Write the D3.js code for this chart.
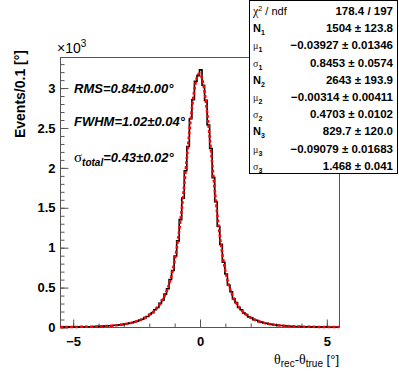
<!DOCTYPE html>
<html><head><meta charset="utf-8">
<script src="https://cdn.jsdelivr.net/npm/d3@7"></script>
<style>body{margin:0;background:#fff}svg{display:block}</style>
</head><body>
<script>
// ---- data ----
const binLow = -5.5, binWidth = 0.1;
const counts = [
  0,1,0,1,1,0,2,1,3,2,
  3,4,3,6,5,8,7,11,12,15,
  16,21,22,27,30,37,40,49,54,66,
  72,88,97,118,131,160,178,216,245,296,
  337,412,480,595,708,890,1079,1346,1615,1958,
  2262,2610,2848,3080,3150,3222,3030,2840,2532,2236,
  1872,1570,1262,1035,812,665,526,441,352,305,
  246,216,176,156,127,114,92,84,67,61,
  49,45,36,33,26,25,19,18,14,13,
  10,9,7,7,5,4,4,3,2,2,
  1,1,1,1,0,1,0,0,0,0
];
const fitN = [1504, 2643, 829.7];
const fitMu = [-0.03927, -0.00314, -0.09079];
const fitSigma = [0.8453, 0.4703, 1.468];
const xTicks = [-5, 0, 5];
const xMinorTicks = [-5,-4,-3,-2,-1,0,1,2,3,4,5];
const yTicks = [0, 500, 1000, 1500, 2000, 2500, 3000];
const yTickLabels = ["0", "0.5", "1", "1.5", "2", "2.5", "3"];
const yMinorTicks = d3.range(0, 3400, 100);
const statMain = ["N","μ","σ","N","μ","σ","N","μ","σ"];
const statSub  = ["1","1","1","2","2","2","3","3","3"];
const statValues = ["1504 ± 123.8","−0.03927 ± 0.01346","0.8453 ± 0.0574",
  "2643 ± 193.9","−0.00314 ± 0.00411","0.4703 ± 0.0102",
  "829.7 ± 120.0","−0.09079 ± 0.01683","1.468 ± 0.041"];
const chi2Text = "178.4 / 197";
const annotations = ["RMS=0.84±0.00°", "FWHM=1.02±0.04°", "=0.43±0.02°"];

// ---- layout ----
const W = 399, H = 385;
const L = 60, R = 339, T = 57, B = 327;
const svg = d3.select("body").append("svg").attr("width", W).attr("height", H);
const font = "'Liberation Sans', Arial, Helvetica, sans-serif";
const greek = "'Liberation Serif', 'DejaVu Serif', serif";

const ymax = d3.max(counts) * 1.05;
const x = d3.scaleLinear().domain([binLow, binLow + counts.length * binWidth]).range([L, R]);
const y = d3.scaleLinear().domain([0, ymax]).range([B, T]);

// frame
svg.append("rect").attr("x", L + 0.5).attr("y", T + 0.5).attr("width", R - L).attr("height", B - T)
  .attr("fill", "none").attr("stroke", "#555").attr("stroke-width", 1);

// axes
function styleAxis(g) {
  g.select(".domain").remove();
  g.selectAll("line").attr("stroke", "#555");
  g.selectAll("text").attr("font-family", font).attr("font-weight", "bold")
    .attr("font-size", 13).attr("fill", "#000");
}
svg.append("g").attr("transform", `translate(0.5,${B + 0.5})`)
  .call(d3.axisBottom(x).tickValues(xMinorTicks).tickSize(-4).tickFormat(""))
  .call(styleAxis);
svg.append("g").attr("transform", `translate(0.5,${B + 0.5})`)
  .call(d3.axisBottom(x).tickValues(xTicks).tickSize(-8).tickPadding(9).tickFormat(d3.format("d")))
  .call(styleAxis);
svg.append("g").attr("transform", `translate(${L + 0.5},0.5)`)
  .call(d3.axisLeft(y).tickValues(yMinorTicks).tickSize(-4).tickFormat(""))
  .call(styleAxis);
svg.append("g").attr("transform", `translate(${L + 0.5},0.5)`)
  .call(d3.axisLeft(y).tickValues(yTicks).tickSize(-8).tickPadding(5)
    .tickFormat((d, i) => yTickLabels[i]))
  .call(styleAxis);

// histogram
const pts = [];
counts.forEach((c, i) => {
  const lo = binLow + i * binWidth;
  pts.push([lo, c], [lo + binWidth, c]);
});
svg.append("path").datum(pts)
  .attr("d", d3.line().x(d => x(d[0])).y(d => y(d[1])))
  .attr("fill", "none").attr("stroke", "#000").attr("stroke-width", 1.6);

// fit
function fitf(v) {
  let s = 0;
  for (let k = 0; k < 3; k++) {
    const z = (v - fitMu[k]) / fitSigma[k];
    s += fitN[k] / (fitSigma[k] * Math.sqrt(2 * Math.PI)) * Math.exp(-0.5 * z * z);
  }
  return s;
}
const xs = d3.range(0, 1101).map(i => binLow + i * (counts.length * binWidth) / 1100);
svg.append("path").datum(xs)
  .attr("d", d3.line().x(d => x(d)).y(d => y(fitf(d))))
  .attr("fill", "none").attr("stroke", "#ff0000").attr("stroke-width", 2.5)
  .attr("stroke-dasharray", "3,2");

// x10^3
const e3 = svg.append("text").attr("x", 57).attr("y", 53)
  .attr("font-family", font).attr("font-size", 14).attr("fill", "#000");
e3.append("tspan").text("×10");
e3.append("tspan").attr("dy", -6).attr("font-size", 10).text("3");

// annotations
const annY = [93, 126, 162];
annotations.forEach((t, i) => {
  const tx = svg.append("text").attr("x", 74).attr("y", annY[i])
    .attr("font-family", font).attr("font-size", 13).attr("font-weight", "bold")
    .attr("font-style", "italic").attr("fill", "#000");
  if (i === 2) {
    tx.append("tspan").attr("font-family", greek).attr("font-style", "normal")
      .attr("font-weight", "normal").attr("font-size", 15).text("σ");
    tx.append("tspan").attr("dy", 4).attr("font-size", 10).text("total");
    tx.append("tspan").attr("dy", -4).text(t);
  } else {
    tx.text(t);
  }
});

// y title
svg.append("text").attr("transform", `translate(25,50) rotate(-90)`)
  .attr("text-anchor", "end").attr("font-family", font).attr("font-size", 14)
  .attr("font-weight", "bold").attr("fill", "#000").text("Events/0.1 [°]");

// x title
const xt = svg.append("text").attr("x", R).attr("y", 364).attr("text-anchor", "end")
  .attr("font-family", font).attr("font-size", 13).attr("fill", "#000");
xt.append("tspan").attr("font-family", greek).attr("font-size", 14).text("θ");
xt.append("tspan").attr("dy", 3).attr("font-size", 10).text("rec");
xt.append("tspan").attr("dy", -3).text("-");
xt.append("tspan").attr("font-family", greek).attr("font-size", 14).text("θ");
xt.append("tspan").attr("dy", 3).attr("font-size", 10).text("true");
xt.append("tspan").attr("dy", -3).text(" [°]");

// stats box
const bx = 249, bw = 148, by = 0.5, bh = 173;
svg.append("rect").attr("x", bx + 0.5).attr("y", by).attr("width", bw).attr("height", bh)
  .attr("fill", "#fff").attr("stroke", "#000").attr("stroke-width", 1);
const rowH = 17.2, base0 = 15;
const c0 = svg.append("text").attr("x", bx + 4).attr("y", base0)
  .attr("font-family", font).attr("font-size", 11).attr("fill", "#000");
c0.append("tspan").attr("font-family", greek).attr("font-size", 12).text("χ");
c0.append("tspan").attr("dy", -4).attr("font-size", 7).text("2");
c0.append("tspan").attr("dy", 4).text(" / ndf");
svg.append("text").attr("x", bx + bw - 4).attr("y", base0).attr("text-anchor", "end")
  .attr("font-family", font).attr("font-size", 11.5).attr("font-weight", "bold").text(chi2Text);
statMain.forEach((m, i) => {
  const yy = base0 + (i + 1) * rowH;
  const t = svg.append("text").attr("x", bx + 4).attr("y", yy)
    .attr("font-family", font).attr("font-size", 11).attr("fill", "#000");
  if (m === "N") {
    t.append("tspan").attr("font-weight", "bold").text(m);
  } else {
    t.append("tspan").attr("font-family", greek).attr("font-size", 10).attr("fill", "#222").text(m);
  }
  t.append("tspan").attr("dy", 3).attr("font-size", 7).attr("font-weight", "bold").text(statSub[i]);
  svg.append("text").attr("x", bx + bw - 4).attr("y", yy).attr("text-anchor", "end")
    .attr("font-family", font).attr("font-size", 11.5).attr("font-weight", "bold")
    .attr("fill", "#000").text(statValues[i]);
});
</script>
</body></html>
